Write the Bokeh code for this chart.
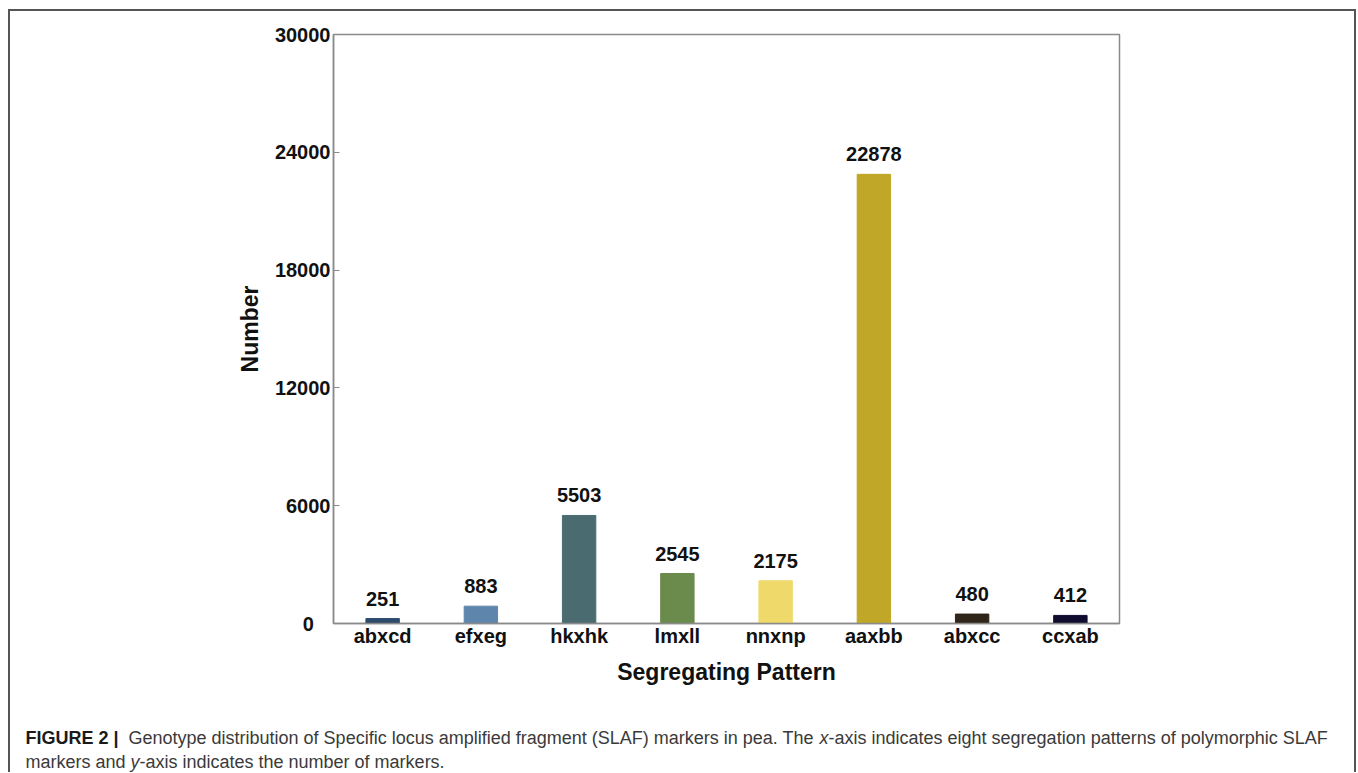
from bokeh.plotting import figure
from bokeh.layouts import column
from bokeh.models import ColumnDataSource, LabelSet, FixedTicker, Range1d
from bokeh.core.properties import value
from bokeh.embed import file_html
from bokeh.resources import INLINE

categories = ["abxcd", "efxeg", "hkxhk", "lmxll", "nnxnp", "aaxbb", "abxcc", "ccxab"]
counts = [251, 883, 5503, 2545, 2175, 22878, 480, 412]
colors = ["#2c4b6c", "#5e86ac", "#4a6c70", "#6a8b4b", "#f0d96b", "#c0a727", "#2f2519", "#0f0c30"]
y_ticks = [0, 6000, 12000, 18000, 24000, 30000]

caption_line1 = ["FIGURE 2 |",
                 "Genotype distribution of Specific locus amplified fragment (SLAF) markers in pea. The ",
                 "x",
                 "-axis indicates eight segregation patterns of polymorphic SLAF"]
caption_line2 = ["markers and ", "y", "-axis indicates the number of markers."]

FONT = "Liberation Sans"

# page geometry: panel border starts at (8, 9), content inside the 2px border
OX, OY = 10, 11
CW = 1344
FL, FT, FR, FB = 333 - OX, 34 - OY, 1119 - OX, 623 - OY   # frame edges in chart canvas
CH = 689

source = ColumnDataSource(dict(cat=categories, val=counts, col=colors,
                               lab=[str(v) for v in counts]))

p = figure(x_range=categories, y_range=Range1d(0, 30000), width=CW, height=CH,
           output_backend="svg", toolbar_location=None,
           min_border_left=FL, min_border_right=CW - FR, min_border_top=FT,
           min_border_bottom=CH - FB)
p.frame_align = False

p.vbar(x="cat", top="val", width=0.34, source=source, fill_color="col", line_color="col")

labels = LabelSet(x="cat", y="val", text="lab", source=source, text_align="center",
                  text_baseline="bottom", y_offset=13, text_font=value(FONT),
                  text_font_size="20px", text_font_style="bold", text_color="#111111")
p.add_layout(labels)

p.xgrid.visible = False
p.ygrid.visible = False
p.outline_line_color = "#8a8a8a"
p.outline_line_width = 1.5

p.yaxis.ticker = FixedTicker(ticks=y_ticks)
p.yaxis.major_label_overrides = {0: "0\u00a0\u00a0\u00a0"}
p.yaxis.major_tick_in = 6
p.yaxis.major_tick_out = 0
p.yaxis.minor_tick_line_color = None
p.yaxis.axis_line_color = "#8a8a8a"
p.yaxis.axis_line_width = 1.5
p.yaxis.major_tick_line_color = "#8a8a8a"
p.yaxis.major_label_text_font = FONT
p.yaxis.major_label_text_font_size = "20px"
p.yaxis.major_label_text_font_style = "bold"
p.yaxis.major_label_text_color = "#111111"
p.yaxis.major_label_standoff = 3
p.yaxis.axis_label = "Number"
p.yaxis.axis_label_text_font = FONT
p.yaxis.axis_label_text_font_size = "23px"
p.yaxis.axis_label_text_font_style = "bold"
p.yaxis.axis_label_text_color = "#111111"
p.yaxis.axis_label_standoff = 9

p.xaxis.major_tick_line_color = None
p.xaxis.minor_tick_line_color = None
p.xaxis.axis_line_color = "#8a8a8a"
p.xaxis.axis_line_width = 1.5
p.xaxis.major_label_text_font = FONT
p.xaxis.major_label_text_font_size = "20px"
p.xaxis.major_label_text_font_style = "bold"
p.xaxis.major_label_text_color = "#111111"
p.xaxis.major_label_standoff = -5
p.xaxis.axis_label = "Segregating Pattern"
p.xaxis.axis_label_text_font = FONT
p.xaxis.axis_label_text_font_size = "23px"
p.xaxis.axis_label_text_font_style = "bold"
p.xaxis.axis_label_text_color = "#111111"
p.xaxis.axis_label_standoff = 9

# caption panel (a bare figure whose frame fills its canvas, pixel coordinates)
CAPH = 72
c = figure(width=CW, height=CAPH, x_range=Range1d(0, CW), y_range=Range1d(CAPH, 0),
           output_backend="svg", toolbar_location=None,
           x_axis_location=None, y_axis_location=None,
           min_border=0, min_border_left=0, min_border_right=0,
           min_border_top=0, min_border_bottom=0)
c.frame_align = False
c.xgrid.visible = False
c.ygrid.visible = False
c.outline_line_color = None

y1, y2 = 737 - 700, 761 - 700
x1 = [25 - OX, 128 - OX, 819 - OX, 828 - OX]
x2 = [25 - OX, 130 - OX, 139 - OX]
styles1 = ["bold", "normal", "italic", "normal"]
styles2 = ["normal", "italic", "normal"]
cols1 = ["#1a1a1a", "#3a3a3a", "#3a3a3a", "#3a3a3a"]
cols2 = ["#3a3a3a", "#3a3a3a", "#3a3a3a"]

for xs, yv, texts, sts, cs in [(x1, y1, caption_line1, styles1, cols1),
                               (x2, y2, caption_line2, styles2, cols2)]:
    for xv, t, st, cc in zip(xs, texts, sts, cs):
        c.text(x=[xv], y=[yv], text=[t], text_font=value(FONT), text_font_size="18px",
               text_font_style=st, text_color=cc, text_align="left",
               text_baseline="middle")

layout = column(p, c, spacing=0,
                styles={"margin-left": "8px", "margin-top": "9px",
                        "border-left": "2px solid #555555",
                        "border-right": "2px solid #555555",
                        "border-top": "2px solid #555555"})

open("out.html", "w").write(file_html(layout, INLINE))
